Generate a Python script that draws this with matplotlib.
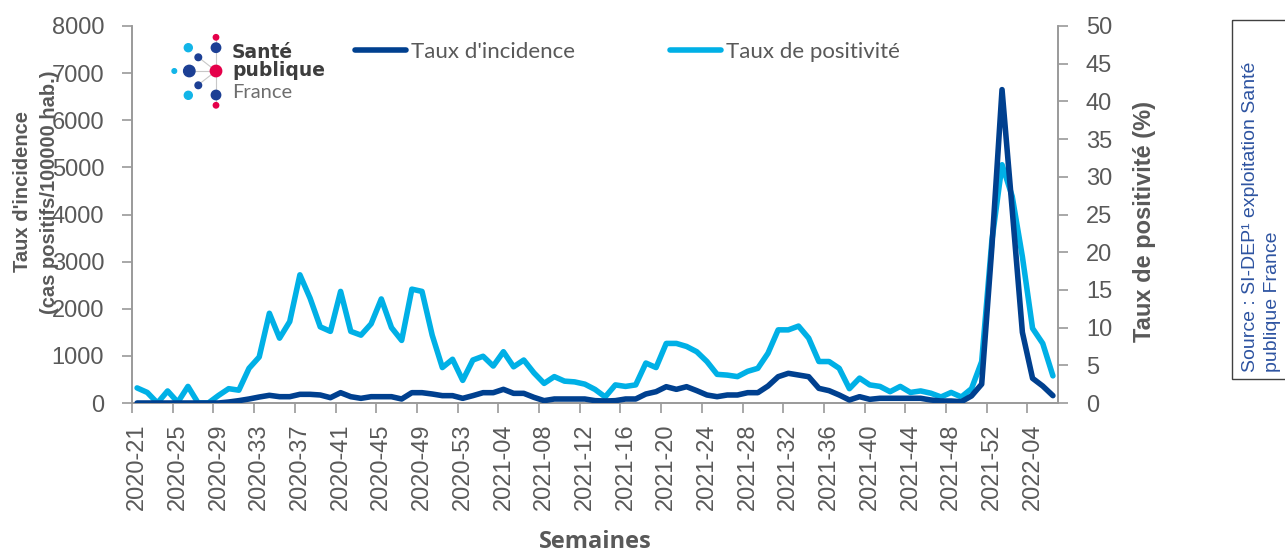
import matplotlib
matplotlib.use("Agg")
import matplotlib.pyplot as plt
from matplotlib.patches import Circle, Rectangle

# weeks 2020-21 ... 2022-06
weeks = [f"2020-{w:02d}" for w in range(21, 54)] + \
        [f"2021-{w:02d}" for w in range(1, 53)] + \
        [f"2022-{w:02d}" for w in range(1, 7)]

incidence = [
    0, 0, 0, 0, 0, 0, 0, 0, 0, 21,
    50, 85, 127, 163, 134, 134, 184, 184, 170, 113,
    219, 134, 99, 134, 134, 134, 85, 219, 219, 191,
    156, 156, 99, 156, 219, 219, 290, 205, 205, 120,
    50, 85, 85, 85, 85, 50, 42, 50, 85, 85,
    191, 240, 346, 290, 346, 262, 170, 134, 170, 170,
    219, 219, 360, 558, 630, 594, 558, 311, 262, 170,
    64, 134, 78, 100, 100, 100, 100, 100, 64, 42,
    42, 28, 150, 400, 3300, 6650, 4100, 1500, 524, 360,
    156]

positivite = [
    2.0, 1.4, 0.0, 1.6, 0.1, 2.2, 0.0, 0.0, 1.0, 1.9,
    1.7, 4.6, 6.1, 11.9, 8.6, 10.8, 17.0, 13.9, 10.1, 9.5,
    14.8, 9.5, 9.0, 10.5, 13.8, 10.0, 8.3, 15.1, 14.8, 9.0,
    4.7, 5.8, 3.0, 5.7, 6.2, 4.9, 6.8, 4.8, 5.7, 4.0,
    2.6, 3.5, 2.9, 2.8, 2.5, 1.8, 0.8, 2.4, 2.2, 2.4,
    5.3, 4.7, 7.9, 7.9, 7.5, 6.8, 5.5, 3.8, 3.7, 3.5,
    4.2, 4.6, 6.6, 9.7, 9.7, 10.2, 8.6, 5.5, 5.5, 4.6,
    1.9, 3.3, 2.4, 2.2, 1.5, 2.2, 1.4, 1.6, 1.3, 0.8,
    1.4, 0.8, 1.9, 5.5, 21.5, 31.6, 27.4, 19.4, 9.9, 7.9,
    3.6]

DARK = "#00408F"
LIGHT = "#00B0E6"
GREY = "#595959"
AXC = "#9A9A9A"

W, H = 1285, 552
fig = plt.figure(figsize=(W / 100, H / 100), dpi=100)
ax = fig.add_axes([132 / W, 1 - 403 / H, (1058 - 132) / W, (403 - 26) / H])
ax2 = ax.twinx()

x = list(range(len(weeks)))
l1, = ax.plot(x, incidence, color=DARK, lw=4, solid_joinstyle="round",
              solid_capstyle="round", label="Taux d'incidence", zorder=3)
l2, = ax2.plot(x, positivite, color=LIGHT, lw=4, solid_joinstyle="round",
               solid_capstyle="round", label="Taux de positivité", zorder=2)
ax.set_zorder(ax2.get_zorder() + 1)
ax.patch.set_visible(False)

ax.set_xlim(-0.5, len(weeks) - 0.5)
ax.set_ylim(0, 8000)
ax2.set_ylim(0, 50)
ax.set_yticks(range(0, 8001, 1000))
ax2.set_yticks(range(0, 51, 5))

# tick marks between groups of 4 weeks, labels on every 4th week
ax.set_xticks([i - 0.5 for i in range(0, len(weeks) + 1, 4)])
ax.set_xticklabels([])
ax.set_xticks(range(0, len(weeks), 4), minor=True)
ax.set_xticklabels(weeks[::4], minor=True, rotation=90,
                   fontfamily="Liberation Sans", fontsize=17, color=GREY)
ax.tick_params(axis="x", which="major", length=7, color=AXC, width=1.2)
ax.tick_params(axis="x", which="minor", length=0, pad=15)

for a in (ax, ax2):
    for s in a.spines.values():
        s.set_color(AXC)
        s.set_linewidth(1.2)
    a.spines["top"].set_visible(False)
ax.tick_params(axis="y", length=7, color=AXC, width=1.2, pad=13,
               labelsize=17, labelcolor=GREY)
ax2.tick_params(axis="y", length=7, color=AXC, width=1.2, pad=13,
                labelsize=17, labelcolor=GREY)
for lab in ax.get_yticklabels() + ax2.get_yticklabels():
    lab.set_fontfamily("Liberation Sans")

# axis titles
fig.text(36 / W, 1 - 192 / H, "Taux d'incidence\n(cas positifs/100000 hab.)",
         rotation=90, ha="center", va="center", multialignment="center",
         fontfamily="Liberation Sans", fontweight="bold", fontsize=14.5,
         color=GREY, linespacing=1.5)
fig.text(1145 / W, 1 - 222 / H, "Taux de positivité (%)", rotation=90,
         ha="center", va="center", fontfamily="Liberation Sans",
         fontweight="bold", fontsize=17, color=GREY)
fig.text(595 / W, 1 - 542 / H, "Semaines", ha="center", va="center",
         fontfamily="Open Sans", fontweight="bold", fontsize=17, color=GREY)

leg = fig.legend(handles=[l1, l2], loc="center left",
                 bbox_to_anchor=(344 / W, 1 - 52 / H), ncol=2, frameon=False,
                 borderpad=0, handlelength=2.3, handletextpad=0.2,
                 columnspacing=4.3,
                 prop={"family": "Lato", "size": 16})
for t in leg.get_texts():
    t.set_color(GREY)

# overlay in pixel units: logo + source box
ov = fig.add_axes([0, 0, 1, 1])
ov.set_xlim(0, W)
ov.set_ylim(H, 0)
ov.axis("off")
ov.set_zorder(5)

PINK = "#E5004A"
LB = "#12B5E8"
DB = "#1C3F94"
centre = (216, 71)
for px, py in [(216, 37), (216, 105), (189, 71), (198, 57), (198, 85)]:
    ov.plot([centre[0], px], [centre[1], py], color="#C8C8C8", lw=0.8, zorder=1)
dots = [(216, 37.3, 2.7, PINK), (216, 47.7, 4.7, DB), (188.3, 47.7, 4, LB),
        (198.3, 57.3, 3.3, DB), (174.3, 71, 2.3, LB), (189.3, 71, 5.7, DB),
        (216, 71, 5.7, PINK), (198.3, 85.3, 3.3, DB), (188.3, 95.3, 4, LB),
        (216, 95, 4.7, DB), (216, 105.3, 2.7, PINK)]
for cx, cy, r, c in dots:
    ov.add_patch(Circle((cx, cy), r, color=c, zorder=2))
ov.text(232, 52, "Santé", fontfamily="DejaVu Sans", fontweight="bold",
        fontsize=13.5, color="#3D3D3D", va="center", ha="left")
ov.text(232, 70, "publique", fontfamily="DejaVu Sans", fontweight="bold",
        fontsize=13.5, color="#3D3D3D", va="center", ha="left")
ov.text(232, 93, "France", fontfamily="Lato", fontsize=14.5,
        color="#6E6E6E", va="center", ha="left")

ov.add_patch(Rectangle((1232, 20), 120, 359, fill=False, edgecolor="#404040",
                       lw=1, clip_on=False))
ov.text(1242, 372, "Source : SI-DEP\u00b9 exploitation Santé\npublique France",
        rotation=90, rotation_mode="anchor", ha="left", va="top",
        fontfamily="Liberation Sans", fontsize=14, color="#2E54A1",
        linespacing=1.35)

fig.savefig("out.png", dpi=100)
